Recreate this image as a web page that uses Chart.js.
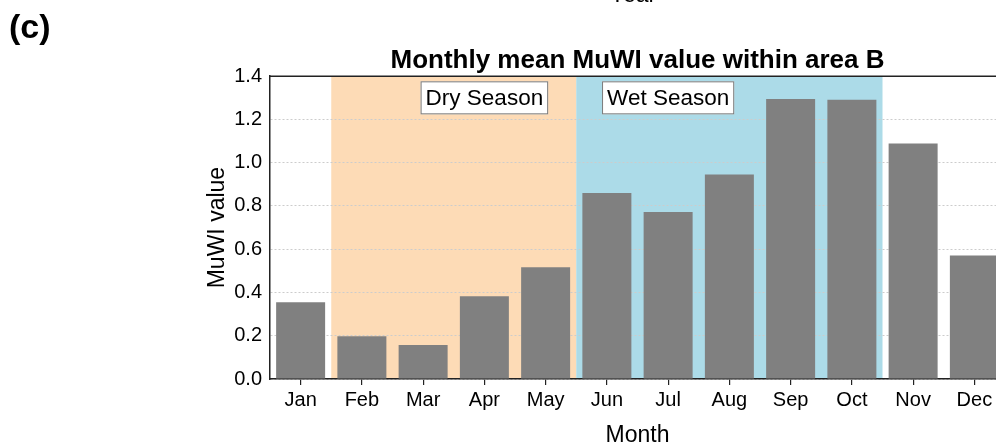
<!DOCTYPE html>
<html>
<head>
<meta charset="utf-8">
<script src="https://cdn.jsdelivr.net/npm/chart.js@4"></script>
<style>
  html, body { margin: 0; padding: 0; background: #fff; overflow: hidden; }
  #wrap { position: relative; width: 1020px; height: 452px; }
</style>
</head>
<body>
<div id="wrap"><canvas id="chartMuwi"></canvas></div>
<script>
const months = ['Jan', 'Feb', 'Mar', 'Apr', 'May', 'Jun', 'Jul', 'Aug', 'Sep', 'Oct', 'Nov', 'Dec'];
const muwiValues = [0.355, 0.198, 0.157, 0.383, 0.517, 0.860, 0.772, 0.946, 1.295, 1.291, 1.089, 0.571];
const yTicks = [0.0, 0.2, 0.4, 0.6, 0.8, 1.0, 1.2, 1.4];

// season spans: first month, last month, label, month under the label box
const seasons = [
    { from: 'Feb', to: 'May', label: 'Dry Season', at: 'Apr', color: '#fddbb6' },
    { from: 'Jun', to: 'Oct', label: 'Wet Season', at: 'Jul', color: '#acdbe8' }
];
const seasonLabelValue = 1.3;

const FONT = "'Liberation Sans', Arial, sans-serif";

let seasonPlugin = {
    id: 'seasons',
    beforeDraw: (chart) => {
        const ctx = chart.ctx;
        const x = chart.scales.x;
        const area = chart.chartArea;
        const half = (x.getPixelForValue(1) - x.getPixelForValue(0)) / 2;
        seasons.forEach((s) => {
            const x1 = x.getPixelForValue(months.indexOf(s.from)) - half;
            const x2 = x.getPixelForValue(months.indexOf(s.to)) + half;
            ctx.save();
            ctx.fillStyle = s.color;
            ctx.fillRect(x1, area.top, x2 - x1, area.bottom - area.top);
            ctx.restore();
        });
    },
    afterDraw: (chart) => {
        const ctx = chart.ctx;
        const x = chart.scales.x;
        const y = chart.scales.y;
        const area = chart.chartArea;
        ctx.save();
        // season label boxes
        ctx.font = '22.5px ' + FONT;
        ctx.textAlign = 'center';
        ctx.textBaseline = 'middle';
        seasons.forEach((s) => {
            const cx = x.getPixelForValue(months.indexOf(s.at));
            const cy = y.getPixelForValue(seasonLabelValue);
            const w = ctx.measureText(s.label).width + 10;
            const h = 33;
            ctx.fillStyle = '#ffffff';
            ctx.fillRect(cx - w / 2, cy - h / 2, w, h);
            ctx.strokeStyle = '#7a7a7a';
            ctx.lineWidth = 1;
            ctx.strokeRect(cx - w / 2 + 0.5, cy - h / 2 + 0.5, w - 1, h - 1);
            ctx.fillStyle = '#000000';
            ctx.fillText(s.label, cx, cy + 1);
        });
        // top frame line
        ctx.strokeStyle = '#222222';
        ctx.lineWidth = 1.5;
        ctx.beginPath();
        ctx.moveTo(area.left, area.top);
        ctx.lineTo(area.right, area.top);
        ctx.stroke();
        // panel letter and the cut off axis title above
        ctx.fillStyle = '#000000';
        ctx.textAlign = 'left';
        ctx.textBaseline = 'alphabetic';
        ctx.font = 'bold 34px ' + FONT;
        ctx.fillText('(c)', 9, 38);
        ctx.textAlign = 'center';
        ctx.font = '23px ' + FONT;
        ctx.fillText('Year', 633, 2);
        ctx.restore();
    }
};

new Chart('chartMuwi', {
    type: 'bar',
    data: {
        labels: months,
        datasets: [{
            data: muwiValues,
            backgroundColor: '#808080',
            borderWidth: 0,
            barPercentage: 0.8,
            categoryPercentage: 1.0
        }]
    },
    options: {
        responsive: true,
        maintainAspectRatio: false,
        animation: false,
        events: [],
        layout: { padding: { left: 200, right: 15, top: 39, bottom: 0 } },
        plugins: {
            legend: { display: false },
            tooltip: { enabled: false },
            title: {
                display: true,
                text: 'Monthly mean MuWI value within area B',
                fullSize: false,
                color: '#000',
                font: { family: FONT, size: 26, weight: 'bold' },
                padding: { top: 6, bottom: 0 }
            }
        },
        scales: {
            x: {
                grid: { display: true, offset: false, drawOnChartArea: false, drawTicks: true, tickLength: 6, tickColor: '#222', lineWidth: 1.2 },
                border: { display: true, color: '#222', width: 1.5 },
                ticks: { color: '#000', padding: 3, font: { family: FONT, size: 20 } },
                title: { display: true, text: 'Month', color: '#000', font: { family: FONT, size: 23 }, padding: { top: 7.2, bottom: 2.2 } }
            },
            y: {
                min: 0,
                max: 1.4,
                afterFit: (scale) => { scale.width = 70; },
                afterBuildTicks: (scale) => { scale.ticks = yTicks.map((v) => ({ value: v })); },
                grid: { color: '#cccccc', lineWidth: 1, drawTicks: false },
                border: { display: true, color: '#222', width: 1.5, dash: [2, 2] },
                ticks: {
                    color: '#000',
                    padding: 8,
                    font: { family: FONT, size: 20 },
                    callback: (v) => Number(v).toFixed(1)
                },
                title: { display: true, text: 'MuWI value', color: '#000', font: { family: FONT, size: 23 }, padding: { top: 4, bottom: 0 } }
            }
        }
    },
    plugins: [seasonPlugin]
});
</script>
</body>
</html>
